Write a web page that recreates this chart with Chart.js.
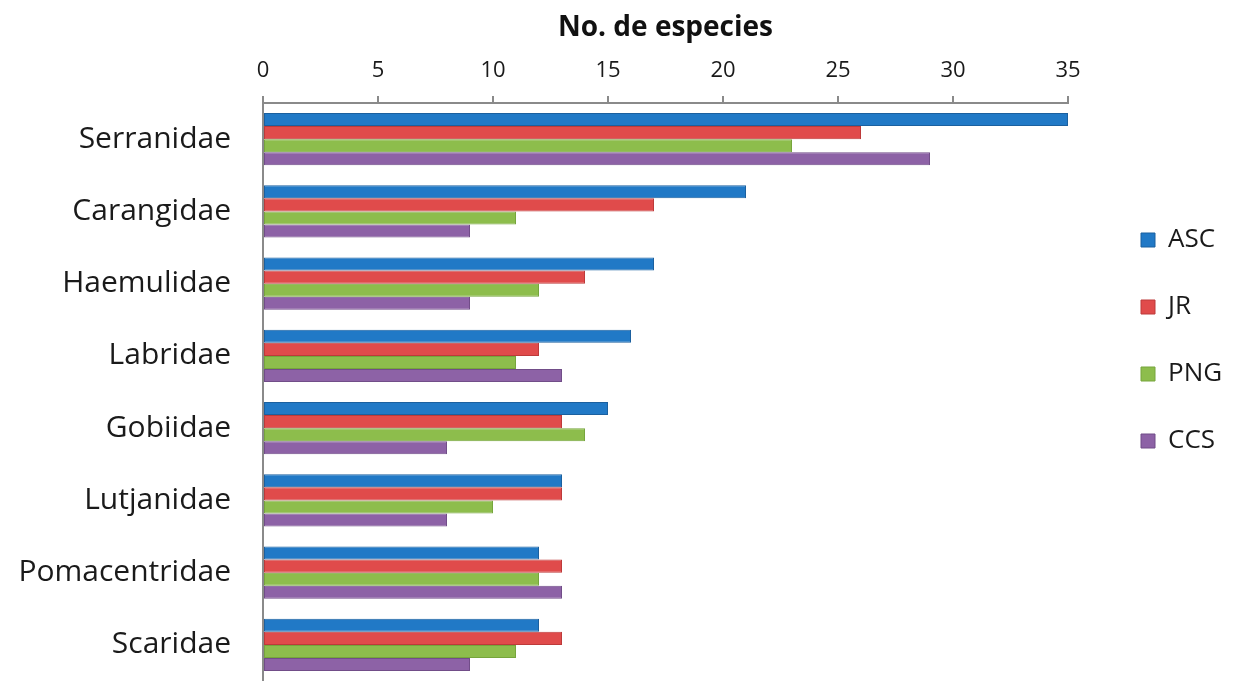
<!DOCTYPE html>
<html>
<head>
<meta charset="utf-8">
<script src="https://cdn.jsdelivr.net/npm/chart.js@4/dist/chart.umd.min.js"></script>
<style>
  html, body { margin: 0; padding: 0; background: #fff; }
  #wrap { width: 1236px; height: 681px; position: relative; }
</style>
</head>
<body>
<div id="wrap"><canvas id="chart"></canvas></div>
<script>
const families = ['Serranidae', 'Carangidae', 'Haemulidae', 'Labridae', 'Gobiidae', 'Lutjanidae', 'Pomacentridae', 'Scaridae'];
const asc = [35, 21, 17, 16, 15, 13, 12, 12];
const jr  = [26, 17, 14, 12, 13, 13, 13, 13];
const png = [23, 11, 12, 11, 14, 10, 12, 11];
const ccs = [29, 9, 9, 13, 8, 8, 13, 9];
const xTicks = [0, 5, 10, 15, 20, 25, 30, 35];

const FONT = "'Open Sans', 'DejaVu Sans', sans-serif";

// legend sits a bit further right than Chart.js puts it
const legendShift = {
  id: 'legendShift',
  afterLayout(chart) {
    chart.legend.left += 32;
    chart.legend.right += 32;
  }
};

function series(label, data, fill, edge) {
  return { label, data, backgroundColor: fill, borderColor: edge, borderWidth: 1, borderSkipped: false };
}

new Chart(document.getElementById('chart'), {
  type: 'bar',
  data: {
    labels: families,
    datasets: [
      series('ASC', asc, '#2179c6', '#1b609f'),
      series('JR', jr, '#e04b4b', '#bd3a3a'),
      series('PNG', png, '#8dbd4c', '#76a53c'),
      series('CCS', ccs, '#8d62a6', '#714d88')
    ]
  },
  options: {
    indexAxis: 'y',
    responsive: true,
    maintainAspectRatio: false,
    animation: false,
    layout: { padding: 0 },
    datasets: { bar: { categoryPercentage: 0.72, barPercentage: 1 } },
    plugins: {
      tooltip: { enabled: false },
      legend: {
        position: 'right',
        labels: {
          boxWidth: 14,
          boxHeight: 14,
          padding: 41,
          color: '#1a1a1a',
          font: { family: FONT, size: 26 }
        }
      }
    },
    scales: {
      x: {
        position: 'top',
        min: 0,
        max: 35,
        afterBuildTicks(scale) { scale.ticks = xTicks.map(v => ({ value: v })); },
        afterFit(scale) { scale.height = 103; scale.paddingLeft = 0; scale.paddingRight = 168; },
        grid: { drawOnChartArea: false, drawTicks: true, tickLength: 7, color: '#8a8a8a', lineWidth: 2 },
        border: { display: true, color: '#8a8a8a', width: 2 },
        ticks: { color: '#1a1a1a', padding: 12, font: { family: FONT, size: 22 } },
        title: {
          display: true,
          text: 'No. de especies',
          color: '#111',
          padding: { top: 11, bottom: 4 },
          font: { family: FONT, size: 28, weight: 'bold' }
        }
      },
      y: {
        afterFit(scale) { scale.width = 263; scale.paddingTop = 0; scale.paddingBottom = 0; },
        grid: { display: false, drawTicks: false },
        border: { display: true, color: '#8a8a8a', width: 2 },
        ticks: { color: '#1a1a1a', padding: 32, font: { family: FONT, size: 30 } }
      }
    }
  },
  plugins: [legendShift]
});
</script>
</body>
</html>
